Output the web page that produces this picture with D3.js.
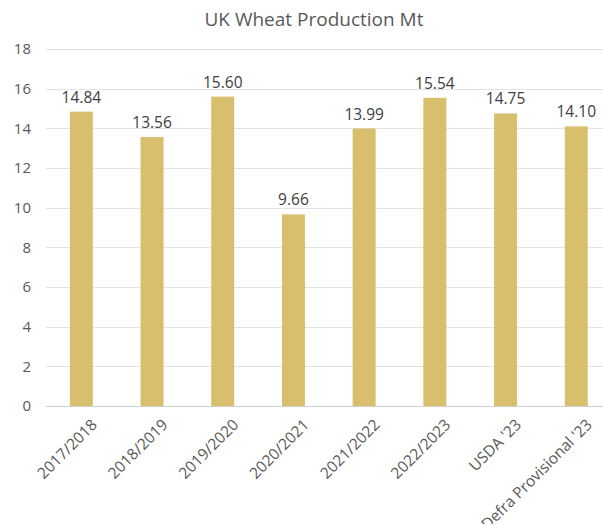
<!DOCTYPE html>
<html>
<head>
<meta charset="utf-8">
<script src="https://cdn.jsdelivr.net/npm/d3@7"></script>
<style>
  body { margin: 0; background: #fff; }
  svg { display: block; font-family: "Open Sans", "Noto Sans", sans-serif; }
</style>
</head>
<body>
<div id="chart"></div>
<script>
const categories = ["2017/2018", "2018/2019", "2019/2020", "2020/2021", "2021/2022", "2022/2023", "USDA '23", "Defra Provisional '23"];
const values = [14.84, 13.56, 15.60, 9.66, 13.99, 15.54, 14.75, 14.10];
const yTicks = [0, 2, 4, 6, 8, 10, 12, 14, 16, 18];

const W = 603, H = 524;
const margin = { top: 49, left: 46, bottom: 118 };
const plotRight = 611.6;

const svg = d3.select("#chart").append("svg")
    .attr("width", W)
    .attr("height", H);

const x = d3.scaleBand()
    .domain(categories)
    .range([margin.left, plotRight])
    .paddingInner(0.675)
    .paddingOuter(0.3375);

const y = d3.scaleLinear()
    .domain([0, 18])
    .range([H - margin.bottom, margin.top]);

// title
svg.append("text")
    .attr("x", 314)
    .attr("y", 26)
    .attr("text-anchor", "middle")
    .attr("fill", "#595959")
    .style("font-size", "19px")
    .text("UK Wheat Production Mt");

// gridlines
svg.append("g")
    .selectAll("line")
    .data(yTicks)
    .join("line")
    .attr("x1", margin.left)
    .attr("x2", W)
    .attr("y1", d => Math.round(y(d)) + 0.5)
    .attr("y2", d => Math.round(y(d)) + 0.5)
    .attr("stroke", d => d === 0 ? "#d0d0d0" : "#e3e3e3")
    .attr("stroke-width", 1);

// y axis labels
svg.append("g")
    .selectAll("text")
    .data(yTicks)
    .join("text")
    .attr("x", 31)
    .attr("y", d => y(d))
    .attr("dy", "0.35em")
    .attr("text-anchor", "end")
    .attr("fill", "#595959")
    .style("font-size", "15px")
    .text(d => d);

// bars
svg.append("g")
    .selectAll("rect")
    .data(values)
    .join("rect")
    .attr("x", (d, i) => x(categories[i]))
    .attr("y", d => y(d))
    .attr("width", x.bandwidth())
    .attr("height", d => y(0) - y(d))
    .attr("fill", "#d8bf6e");

// value labels
svg.append("g")
    .selectAll("text")
    .data(values)
    .join("text")
    .attr("x", (d, i) => x(categories[i]) + x.bandwidth() / 2)
    .attr("y", d => y(d) - 9)
    .attr("text-anchor", "middle")
    .attr("fill", "#404040")
    .style("font-size", "15.5px")
    .text(d => d.toFixed(2));

// x labels, rotated
svg.append("g")
    .selectAll("text")
    .data(categories)
    .join("text")
    .attr("transform", d => `translate(${x(d) + x.bandwidth() / 2 + 9},${y(0) + 12}) rotate(-45)`)
    .attr("text-anchor", "end")
    .attr("dy", "0.7em")
    .attr("fill", "#595959")
    .style("font-size", "15.5px")
    .text(d => d);
</script>
</body>
</html>
